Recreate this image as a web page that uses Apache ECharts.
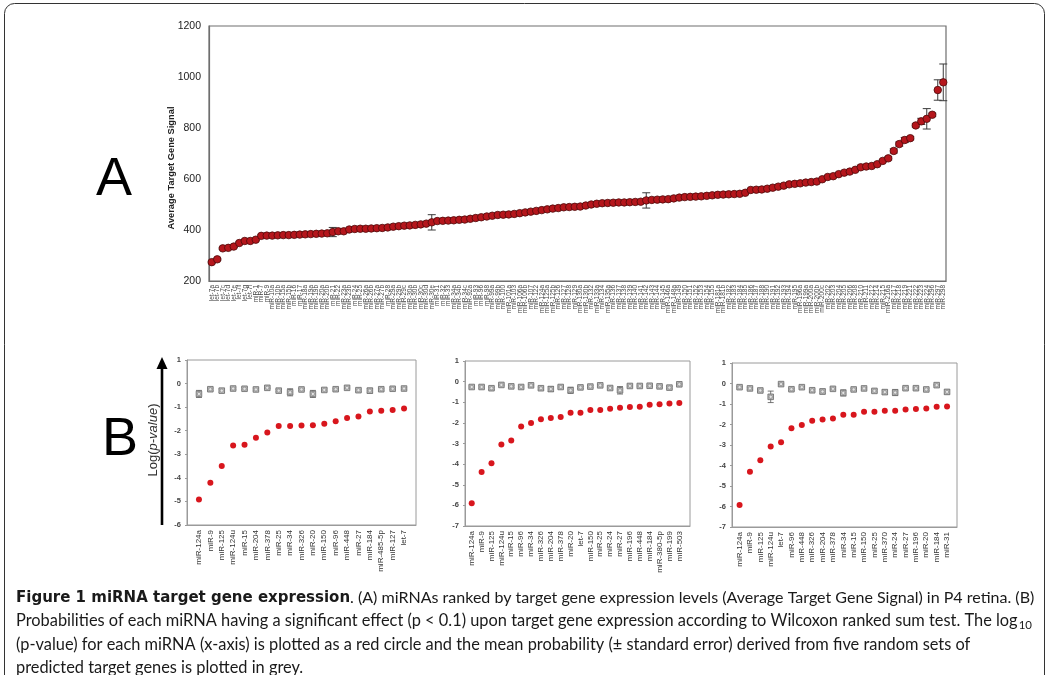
<!DOCTYPE html>
<html>
<head>
<meta charset="utf-8">
<script src="https://cdn.jsdelivr.net/npm/echarts@6/dist/echarts.min.js"></script>
<style>
html, body { margin: 0; padding: 0; background: #fff; }
#chart { width: 1049px; height: 675px; }
</style>
</head>
<body>
<div id="chart"></div>
<script>
// ---- panel A: miRNAs ranked by average target gene signal ----
const aNames = [
  'let-7a','let-7b','let-7c','let-7d','let-7e','let-7f','let-7g','let-7i','miR-1','miR-7',
  'miR-9','miR-10a','miR-10b','miR-15a','miR-15b','miR-16','miR-17','miR-18a','miR-19a','miR-19b',
  'miR-20a','miR-20b','miR-21','miR-22','miR-23a','miR-23b','miR-24','miR-25','miR-26a','miR-26b',
  'miR-27a','miR-27b','miR-28','miR-29a','miR-29b','miR-29c','miR-30a','miR-30b','miR-30c','miR-30d',
  'miR-30e','miR-31','miR-32','miR-33','miR-34a','miR-34b','miR-34c','miR-92a','miR-93','miR-96',
  'miR-98','miR-99a','miR-99b','miR-100','miR-101a','miR-103','miR-106a','miR-106b','miR-107','miR-122',
  'miR-124a','miR-125a','miR-125b','miR-126','miR-127','miR-128','miR-129','miR-130a','miR-130b','miR-132',
  'miR-133a','miR-134','miR-135a','miR-136','miR-137','miR-138','miR-139','miR-140','miR-141','miR-142',
  'miR-143','miR-144','miR-145','miR-146a','miR-148a','miR-149','miR-150','miR-151','miR-152','miR-153',
  'miR-154','miR-155','miR-181a','miR-181b','miR-182','miR-183','miR-184','miR-185','miR-186','miR-187',
  'miR-188','miR-190','miR-191','miR-192','miR-193','miR-194','miR-195','miR-196a','miR-199a','miR-200a',
  'miR-200b','miR-200c','miR-202','miR-203','miR-204','miR-205','miR-206','miR-208','miR-210','miR-211',
  'miR-212','miR-214','miR-215','miR-216a','miR-217','miR-218','miR-219','miR-221','miR-222','miR-223',
  'miR-224','miR-296','miR-297','miR-298'
];
const aSignal = [
  274, 285, 328, 330, 335, 349, 357, 357, 362, 377,
  378, 378, 379, 380, 380, 381, 382, 383, 384, 385,
  386, 387, 392, 395, 395, 402, 404, 405, 405, 406,
  407, 408, 410, 413, 415, 417, 418, 420, 422, 425,
  430, 435, 436, 437, 438, 440, 441, 444, 447, 450,
  453, 456, 459, 460, 461, 463, 466, 469, 472, 475,
  478, 481, 484, 486, 489, 490, 491, 492, 496, 500,
  503, 505, 506, 507, 508, 508, 509, 510, 511, 516,
  518, 519, 520, 521, 524, 527, 529, 530, 531, 532,
  534, 536, 538, 539, 540, 541, 542, 546, 557, 558,
  559, 562, 566, 570, 574, 579, 581, 583, 586, 588,
  590, 599, 608, 611, 619, 625, 629, 636, 646, 649,
  651, 658, 671, 681, 710, 737, 753, 760, 810, 826,
  836, 852, 949, 979
];
const aErr = [
  4, 4, 4, 4, 4, 4, 4, 4, 4, 4,
  4, 4, 4, 4, 4, 4, 4, 4, 4, 4,
  4, 4, 18, 4, 4, 4, 4, 4, 4, 4,
  4, 4, 4, 4, 4, 4, 4, 4, 4, 4,
  30, 4, 4, 4, 4, 4, 4, 4, 4, 4,
  4, 4, 4, 4, 4, 4, 4, 4, 4, 4,
  4, 4, 4, 4, 4, 4, 4, 4, 4, 4,
  4, 4, 4, 4, 4, 4, 4, 4, 4, 30,
  4, 4, 4, 4, 4, 4, 4, 4, 4, 4,
  4, 4, 4, 4, 4, 4, 4, 4, 4, 4,
  4, 4, 4, 4, 4, 4, 4, 4, 4, 4,
  4, 4, 4, 4, 4, 4, 4, 4, 8, 4,
  4, 4, 4, 6, 8, 8, 10, 6, 6, 12,
  40, 6, 40, 72
];
const aTicks = [200, 1200, 200]; // min, max, step

// ---- panel B: log10(p-value) per miRNA, three data sets ----
const b1Names = ['miR-124a','miR-9','miR-125','miR-124u','miR-15','miR-204','miR-378','miR-25','miR-34','miR-326',
  'miR-20','miR-150','miR-96','miR-448','miR-27','miR-184','miR-485-5p','miR-127','let-7'];
const b1P = [-4.92,-4.21,-3.50,-2.63,-2.60,-2.30,-2.08,-1.80,-1.80,-1.78,-1.77,-1.70,-1.60,-1.46,-1.40,-1.19,-1.15,-1.12,-1.06];
const b1Rand = [-0.44,-0.24,-0.30,-0.21,-0.22,-0.25,-0.18,-0.30,-0.37,-0.25,-0.44,-0.27,-0.24,-0.18,-0.28,-0.30,-0.24,-0.22,-0.21];
const b1RandErr = [0.15,0.05,0.07,0.04,0.05,0.05,0.03,0.05,0.15,0.04,0.15,0.05,0.04,0.03,0.05,0.10,0.04,0.04,0.04];

const b2Names = ['miR-124a','miR-9','miR-125','miR-124u','miR-15','miR-96','miR-34','miR-326','miR-204','miR-378',
  'miR-20','let-7','miR-150','miR-25','miR-24','miR-27','miR-196','miR-448','miR-184','miR-380-5p','miR-199','miR-503'];
const b2P = [-5.90,-4.38,-3.96,-3.05,-2.86,-2.17,-2.01,-1.82,-1.76,-1.71,-1.51,-1.51,-1.38,-1.38,-1.32,-1.27,-1.23,-1.22,-1.12,-1.10,-1.06,-1.04];
const b2Rand = [-0.26,-0.26,-0.32,-0.16,-0.23,-0.26,-0.18,-0.32,-0.36,-0.26,-0.42,-0.28,-0.24,-0.18,-0.31,-0.42,-0.21,-0.21,-0.20,-0.23,-0.29,-0.13];
const b2RandErr = [0.05,0.06,0.06,0.04,0.05,0.05,0.04,0.06,0.12,0.05,0.15,0.05,0.05,0.04,0.06,0.18,0.05,0.04,0.04,0.05,0.06,0.03];

const b3Names = ['miR-124a','miR-9','miR-125','miR-124u','let-7','miR-96','miR-448','miR-326','miR-204','miR-378',
  'miR-34','miR-15','miR-150','miR-25','miR-370','miR-24','miR-27','miR-196','miR-20','miR-184','miR-31'];
const b3P = [-5.93,-4.31,-3.74,-3.07,-2.86,-2.18,-2.02,-1.82,-1.76,-1.71,-1.53,-1.53,-1.38,-1.38,-1.33,-1.33,-1.27,-1.24,-1.22,-1.14,-1.12];
const b3Rand = [-0.18,-0.24,-0.34,-0.65,-0.03,-0.28,-0.18,-0.33,-0.39,-0.26,-0.46,-0.29,-0.24,-0.36,-0.42,-0.44,-0.23,-0.23,-0.29,-0.08,-0.41];
const b3RandErr = [0.04,0.05,0.06,0.28,0.03,0.05,0.04,0.06,0.12,0.05,0.15,0.05,0.04,0.06,0.10,0.15,0.05,0.05,0.06,0.03,0.10];

// caption lines
const capBold = 'Figure 1 miRNA target gene expression';
const capLines = [
  '. (A) miRNAs ranked by target gene expression levels (Average Target Gene Signal) in P4 retina. (B)',
  'Probabilities of each miRNA having a significant effect (p < 0.1) upon target gene expression according to Wilcoxon ranked sum test. The log',
  '(p-value) for each miRNA (x-axis) is plotted as a red circle and the mean probability (\u00b1 standard error) derived from five random sets of',
  'predicted target genes is plotted in grey.'
];

const SANS = 'Liberation Sans, Arial, sans-serif';
const CAP = 'Lato';

// text measuring, so caption lines fill the same width as in the figure
const mctx = document.createElement('canvas').getContext('2d');
const textW = (s, size, fam, weight) => {
  mctx.font = (weight || 'normal') + ' ' + size + 'px ' + fam;
  return mctx.measureText(s).width;
};
const fit = (s, fam, weight, target) => 20 * target / textW(s, 20, fam, weight);

const chart = echarts.init(document.getElementById('chart'));

const panelsB = [
  { names: b1Names, p: b1P, rand: b1Rand, err: b1RandErr, left: 187, width: 229, top: 360, height: 165, ymin: -6, xmin: -1.05, xmax: 19.05 },
  { names: b2Names, p: b2P, rand: b2Rand, err: b2RandErr, left: 465, width: 225, top: 361, height: 165, ymin: -7, xmin: -0.68, xmax: 22.08 },
  { names: b3Names, p: b3P, rand: b3Rand, err: b3RandErr, left: 732, width: 225, top: 363, height: 164, ymin: -7, xmin: -0.73, xmax: 20.96 }
];

const grids = [{ left: 209, top: 26, width: 737, height: 255, show: true, borderColor: '#6e6e6e', borderWidth: 1.2 }];
const xAxes = [{
  type: 'category', gridIndex: 0, data: aNames, boundaryGap: true,
  axisLine: { lineStyle: { color: '#6e6e6e', width: 1.2 } },
  axisTick: { length: 3, interval: 0, lineStyle: { color: '#6e6e6e' } },
  axisLabel: { interval: 0, rotate: 90, fontSize: 6.5, color: '#444', margin: 4, fontFamily: SANS }
}];
const yAxes = [{
  type: 'value', gridIndex: 0, min: aTicks[0], max: aTicks[1], interval: aTicks[2],
  splitLine: { show: false },
  axisLine: { show: true, onZero: false, lineStyle: { color: '#6e6e6e', width: 1.2 } },
  axisTick: { show: false },
  axisLabel: { fontSize: 10.5, color: '#222', margin: 8, fontFamily: SANS, formatter: v => String(v) }
}];

function errBarA(params, api) {
  const i = api.value(0), v = api.value(1), e = api.value(2);
  const hi = api.coord([i, v + e]), lo = api.coord([i, v - e]);
  const w = 4, st = { stroke: '#3a3a3a', lineWidth: 1 };
  return { type: 'group', children: [
    { type: 'line', shape: { x1: hi[0], y1: hi[1], x2: lo[0], y2: lo[1] }, style: st },
    { type: 'line', shape: { x1: hi[0] - w, y1: hi[1], x2: hi[0] + w, y2: hi[1] }, style: st },
    { type: 'line', shape: { x1: lo[0] - w, y1: lo[1], x2: lo[0] + w, y2: lo[1] }, style: st }
  ] };
}

function randMarker(params, api) {
  const i = api.value(0), v = api.value(1), e = api.value(2);
  const c = api.coord([i, v]);
  const hi = api.coord([i, v + e]), lo = api.coord([i, v - e]);
  const w = 3, st = { stroke: '#555', lineWidth: 0.8 };
  return { type: 'group', children: [
    { type: 'line', shape: { x1: hi[0], y1: hi[1], x2: lo[0], y2: lo[1] }, style: st },
    { type: 'line', shape: { x1: hi[0] - w, y1: hi[1], x2: hi[0] + w, y2: hi[1] }, style: st },
    { type: 'line', shape: { x1: lo[0] - w, y1: lo[1], x2: lo[0] + w, y2: lo[1] }, style: st },
    { type: 'rect', shape: { x: c[0] - 2.8, y: c[1] - 2.8, width: 5.6, height: 5.6 }, style: { fill: '#b8b8b8', stroke: '#6a6a6a', lineWidth: 0.8 } },
    { type: 'circle', shape: { cx: c[0], cy: c[1], r: 1.6 }, style: { fill: '#e6e6e6', stroke: '#777', lineWidth: 0.5 } }
  ] };
}

const series = [
  { type: 'custom', xAxisIndex: 0, yAxisIndex: 0, renderItem: errBarA, z: 2, silent: true,
    encode: { x: 0, y: 1 }, data: aSignal.map((v, i) => [i, v, aErr[i]]) },
  { type: 'scatter', xAxisIndex: 0, yAxisIndex: 0, z: 3, symbolSize: 7.5,
    itemStyle: { color: '#b5161c', borderColor: '#4d0a0a', borderWidth: 0.8, opacity: 1 },
    data: aSignal.map((v, i) => [i, v]) }
];

panelsB.forEach((pb, k) => {
  const g = k + 1;
  grids.push({ left: pb.left, top: pb.top, width: pb.width, height: pb.height, show: true, borderColor: '#9a9a9a', borderWidth: 1 });
  const idx = pb.names.map((_, i) => i);
  xAxes.push({
    type: 'value', gridIndex: g, min: pb.xmin, max: pb.xmax,
    splitLine: { show: false },
    axisLine: { onZero: false, lineStyle: { color: '#9a9a9a' } },
    axisTick: { show: false },
    axisLabel: { customValues: idx, formatter: v => pb.names[Math.round(v)] || '', rotate: 90,
      fontSize: 8, color: '#333', margin: 5, fontFamily: SANS }
  });
  yAxes.push({
    type: 'value', gridIndex: g, min: pb.ymin, max: 1, interval: 1,
    splitLine: { show: false },
    axisLine: { show: true, onZero: false, lineStyle: { color: '#9a9a9a' } },
    axisTick: { show: true, length: 2, lineStyle: { color: '#9a9a9a' } },
    axisLabel: { fontSize: 7.5, fontWeight: 'bold', color: '#444', margin: 6, fontFamily: SANS }
  });
  series.push({
    type: 'custom', xAxisIndex: g, yAxisIndex: g, renderItem: randMarker, z: 2, silent: true,
    encode: { x: 0, y: 1 }, data: pb.rand.map((v, i) => [i, v, pb.err[i]])
  });
  series.push({
    type: 'scatter', xAxisIndex: g, yAxisIndex: g, z: 3, symbolSize: 6,
    itemStyle: { color: '#d8161d', opacity: 1 },
    data: pb.p.map((v, i) => [i, v])
  });
});

// caption: one body size, taken from the full-width second line
const bodySize = fit(capLines[1], CAP, 'normal', 1018 - 16);
const boldSize = Math.min(15, fit(capBold, 'DejaVu Sans', 'bold', 347));
const boldW = textW(capBold, boldSize, 'DejaVu Sans', 'bold');
const l1Size = Math.min(bodySize, fit(capLines[0], CAP, 'normal', 1035 - 16 - boldW));
const l2W = textW(capLines[1], bodySize, CAP, 'normal');
const capY = [598, 621, 645, 668];

const capText = (x, y, text, size, extra) => ({
  type: 'text', x: x, y: y, silent: true,
  style: Object.assign({ text: text, fontSize: size, fontFamily: CAP, fill: '#1a1a1a', verticalAlign: 'middle', align: 'left' }, extra || {})
});

const graphic = [
  { type: 'rect', silent: true, shape: { x: 4.5, y: 3.5, width: 1040, height: 720, r: 10 },
    style: { fill: null, stroke: '#333', lineWidth: 1 } },
  { type: 'text', x: 114, y: 180, silent: true,
    style: { text: 'A', fontSize: 54, fontFamily: SANS, fill: '#000', align: 'center', verticalAlign: 'middle' } },
  { type: 'text', x: 120, y: 440, silent: true,
    style: { text: 'B', fontSize: 54, fontFamily: SANS, fill: '#000', align: 'center', verticalAlign: 'middle' } },
  { type: 'text', x: 171, y: 168, rotation: Math.PI / 2, silent: true,
    style: { text: 'Average Target Gene Signal', fontSize: 9.3, fontWeight: 'bold', fontFamily: SANS, fill: '#222', align: 'center', verticalAlign: 'middle' } },
  { type: 'text', x: 153, y: 440, rotation: Math.PI / 2, silent: true,
    style: { text: 'Log({i|p-value})', fontSize: 13, fontFamily: SANS, fill: '#333', align: 'center', verticalAlign: 'middle',
      rich: { i: { fontStyle: 'italic', fontSize: 13, fontFamily: SANS, fill: '#333' } } } },
  { type: 'line', silent: true, shape: { x1: 162, y1: 525, x2: 162, y2: 366 }, style: { stroke: '#000', lineWidth: 2.6 } },
  { type: 'polygon', silent: true, shape: { points: [[162, 357], [156.5, 369], [167.5, 369]] }, style: { fill: '#000' } },
  capText(16, capY[0], capBold, boldSize, { fontFamily: 'DejaVu Sans', fontWeight: 'bold' }),
  capText(16 + boldW, capY[0], capLines[0], l1Size),
  capText(16, capY[1], capLines[1], bodySize),
  capText(16 + l2W + 1, capY[1] + 4, '10', bodySize * 0.7),
  capText(16, capY[2], capLines[2], bodySize),
  capText(16, capY[3], capLines[3], bodySize)
];

chart.setOption({
  animation: false,
  backgroundColor: '#fff',
  grid: grids,
  xAxis: xAxes,
  yAxis: yAxes,
  series: series,
  graphic: graphic
});
</script>
</body>
</html>
